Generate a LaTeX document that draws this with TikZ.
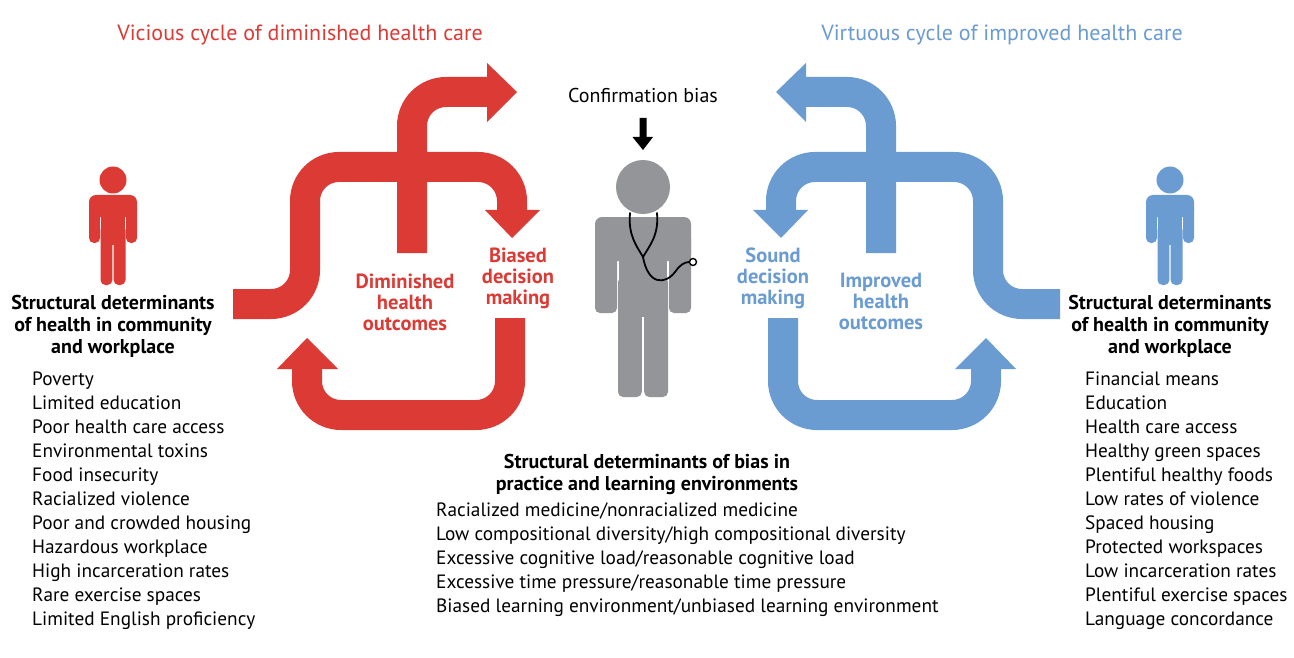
\documentclass[tikz,border=0pt]{standalone}
\usepackage{fontspec}
\setmainfont{PT Sans}
\definecolor{cred}{HTML}{DC3A35}
\definecolor{cblue}{HTML}{6A9BD1}
\definecolor{cgray}{HTML}{939598}
\begin{document}
\begin{tikzpicture}[x=1pt,y=-1pt,
  band/.style={line width=30pt,rounded corners=34pt},
  lbl/.style={font=\fontsize{20.5}{21}\selectfont\bfseries,align=center,inner sep=0},
  title/.style={font=\fontsize{22}{24}\selectfont,inner sep=0},
  hd/.style={font=\fontsize{20}{22}\selectfont\bfseries,align=center,inner sep=0},
  lst/.style={font=\fontsize{19.3}{24}\selectfont,align=left,inner sep=0,anchor=north west},
  person/.pic={
    \fill (0,-15) circle (13.5);
    \fill[rounded corners=7pt] (-24,0) rectangle (24,22);
    \fill (-12,0) rectangle (12,50);
    \fill[rounded corners=5pt] (-24,8) rectangle (-13,48);
    \fill[rounded corners=5pt] (13,8) rectangle (24,48);
    \fill[rounded corners=5pt] (-12.5,30) rectangle (-0.6,90);
    \fill[rounded corners=5pt] (0.6,30) rectangle (12.5,90);
  }]
\useasboundingbox[fill=white] (0,0) rectangle (1294,658);
% red cycle
\begin{scope}[cred]
  \draw[band] (233,304) -- (305,304) -- (305,167) -- (512,167) -- (512,211);
  \draw[band] (412,253) -- (412,92) -- (488,92);
  \draw[band] (510,318) -- (510,415) -- (307,415) -- (307,368);
  \fill (485,210) -- (540,210) -- (512,238) -- cycle;
  \fill (487,63) -- (487,122) -- (517,92) -- cycle;
  \fill (277,369) -- (338,369) -- (307,338) -- cycle;
\end{scope}
% blue cycle (mirror)
\begin{scope}[cblue,xshift=1293pt,xscale=-1]
  \draw[band] (233,304) -- (305,304) -- (305,167) -- (512,167) -- (512,211);
  \draw[band] (412,253) -- (412,92) -- (488,92);
  \draw[band] (510,318) -- (510,415) -- (307,415) -- (307,368);
  \fill (485,210) -- (540,210) -- (512,238) -- cycle;
  \fill (487,63) -- (487,122) -- (517,92) -- cycle;
  \fill (277,369) -- (338,369) -- (307,338) -- cycle;
\end{scope}
% people
\pic[cred] (pl) at (113,195) {person};
\pic[cblue] (pr) at (1170,195) {person};
\pic[cgray,scale=2] (doc) at (643,217) {person};
% stethoscope
\draw[line width=1.8pt,line cap=round] (630,213) .. controls (628,235) and (636,245) .. (643,257)
  (657,213) .. controls (659,235) and (650,245) .. (643,257)
  (643,257) .. controls (648,285) and (665,285) .. (675,272) .. controls (680,265) and (684,262) .. (689.5,262);
\draw[line width=1.4pt,fill=white] (693,262) circle (3.5);
% confirmation bias
\node[font=\fontsize{20}{22}\selectfont,inner sep=0] (cb) at (643,96) {Confirmation bias};
\coordinate (cbt) at (643,118);
\fill (cbt) ++(-3.5,0) -- ++(7,0) -- ++(0,19) -- ++(6.5,0) -- (643,150) -- (632.5,137) -- (639.5,137) -- cycle;
% titles
\node[title,cred] (t1) at (300,35) {Vicious cycle of diminished health care};
\node[title,cblue] (t2) at (1002,35) {Virtuous cycle of improved health care};
% labels
\node[lbl,cred] (l1) at (405,302) {Diminished\\health\\outcomes};
\node[lbl,cred] (l2) at (518,278) {Biased\\decision\\making};
\node[lbl,cblue] (l3) at (773,278) {Sound\\decision\\making};
\node[lbl,cblue] (l4) at (881,301) {Improved\\health\\outcomes};
% headings
\node[hd] (h1) at (113,326) {Structural determinants\\of health in community\\and workplace};
\node[hd] (h2) at (1170,326) {Structural determinants\\of health in community\\and workplace};
\node[hd] (h3) at (647,474) {Structural determinants of bias in\\practice and learning environments};
% lists
\node[lst] (s1) at (32,372) {Poverty\\Limited education\\Poor health care access\\Environmental toxins\\Food insecurity\\Racialized violence\\Poor and crowded housing\\Hazardous workplace\\High incarceration rates\\Rare exercise spaces\\Limited English proficiency};
\node[lst] (s2) at (1085,372) {Financial means\\Education\\Health care access\\Healthy green spaces\\Plentiful healthy foods\\Low rates of violence\\Spaced housing\\Protected workspaces\\Low incarceration rates\\Plentiful exercise spaces\\Language concordance};
\node[lst] (s3) at (436,503) {Racialized medicine/nonracialized medicine\\Low compositional diversity/high compositional diversity\\Excessive cognitive load/reasonable cognitive load\\Excessive time pressure/reasonable time pressure\\Biased learning environment/unbiased learning environment};
\end{tikzpicture}
\end{document}
